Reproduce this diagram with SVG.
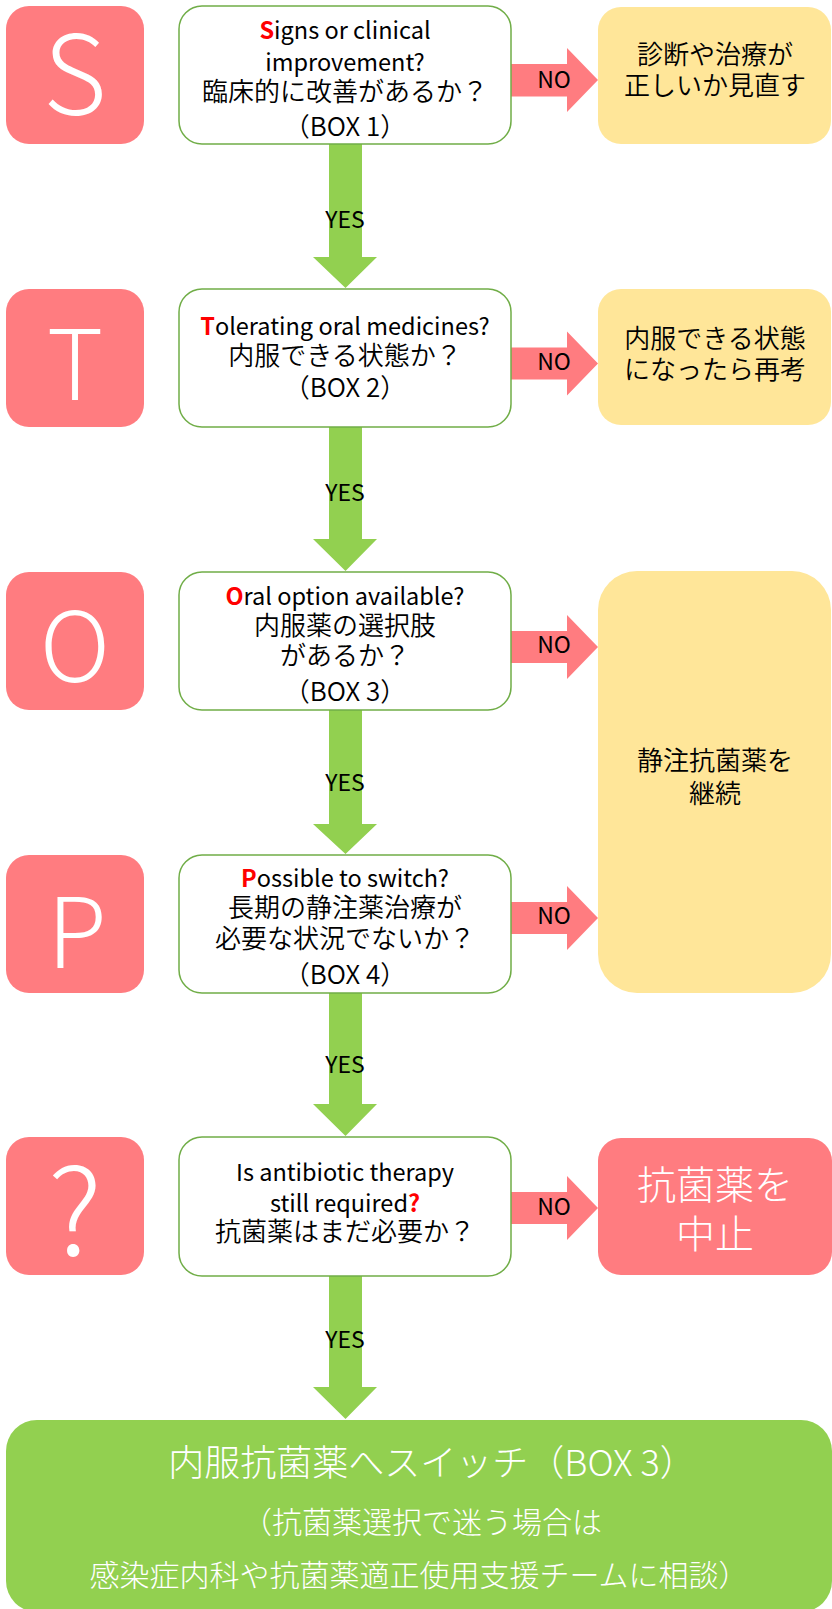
<svg xmlns="http://www.w3.org/2000/svg" width="832" height="1609" viewBox="0 0 832 1609">
<style>
.lbox{fill:#FF7C80}
.qbox{fill:#FFFFFF;stroke:#70AD47;stroke-width:1.5}
.ybox{fill:#FFE699}
.rbox{fill:#FF7C80}
.gbox{fill:#92D050}
.yes{fill:#92D050}
.no{fill:#FF7C80}
text{font-family:"Noto Sans CJK JP","Noto Sans",sans-serif}
.letter{fill:#FFFFFF;font-weight:300;text-anchor:middle}
.q{font-size:26px;fill:#000000;text-anchor:middle;font-weight:350}
.e{font-size:23.5px;fill:#000000;text-anchor:middle}
.red{fill:#FF0000;font-weight:bold}
.lab{font-size:23px;fill:#000000;text-anchor:middle}
.w{fill:#FFFFFF;text-anchor:middle;font-weight:300}
</style>
<g id="connectors">
<polygon class="yes" points="329,144 362,144 362,257 377,257 345.5,288 313,257 329,257"/>
<polygon class="yes" points="329,427 362,427 362,539 377,539 345.5,571 313,539 329,539"/>
<polygon class="yes" points="329,710 362,710 362,824 377,824 345.5,854 313,824 329,824"/>
<polygon class="yes" points="329,993 362,993 362,1104 377,1104 345.5,1136 313,1104 329,1104"/>
<polygon class="yes" points="329,1276 362,1276 362,1387 377,1387 345.5,1419 313,1387 329,1387"/>
<text class="lab" x="345" y="228">YES</text>
<text class="lab" x="345" y="501">YES</text>
<text class="lab" x="345" y="791">YES</text>
<text class="lab" x="345" y="1073">YES</text>
<text class="lab" x="345" y="1348">YES</text>
<polygon class="no" points="511,64 567,64 567,48 598,80 567,112 567,96.5 511,96.5"/>
<polygon class="no" points="511,347.5 567,347.5 567,331.5 598,363.5 567,395.5 567,379.5 511,379.5"/>
<polygon class="no" points="511,631 567,631 567,615 598,647 567,679 567,663 511,663"/>
<polygon class="no" points="511,902 567,902 567,886 598,918 567,950 567,934 511,934"/>
<polygon class="no" points="511,1192 567,1192 567,1176 598,1208 567,1240 567,1224 511,1224"/>
<text class="lab" x="554" y="88">NO</text>
<text class="lab" x="554" y="370">NO</text>
<text class="lab" x="554" y="653">NO</text>
<text class="lab" x="554" y="924">NO</text>
<text class="lab" x="554" y="1215">NO</text>
</g>
<g id="letter-S"><rect class="lbox" x="6" y="6" width="138" height="138" rx="23"/><text class="letter" x="75" y="115" font-size="110">S</text></g>
<g id="letter-T"><rect class="lbox" x="6" y="289" width="138" height="138" rx="23"/><text class="letter" x="75" y="400" font-size="97">T</text></g>
<g id="letter-O"><rect class="lbox" x="6" y="572" width="138" height="138" rx="23"/><text class="letter" x="75" y="682" font-size="97">O</text></g>
<g id="letter-P"><rect class="lbox" x="6" y="855" width="138" height="138" rx="23"/><text class="letter" x="77" y="968" font-size="97">P</text></g>
<g id="letter-Q"><rect class="lbox" x="6" y="1137" width="138" height="138" rx="23"/><text class="letter" x="75" y="1255" font-size="120">?</text></g>
<g id="q1"><rect class="qbox" x="179" y="6" width="332" height="138" rx="23"/>
<text class="e" x="345" y="39"><tspan class="red">S</tspan>igns or clinical</text>
<text class="e" x="345" y="71">improvement?</text>
<text class="q" x="345" y="101">臨床的に改善があるか？</text>
<text class="q" x="345" y="136">（BOX 1）</text></g>
<g id="q2"><rect class="qbox" x="179" y="289" width="332" height="138" rx="23"/>
<text class="e" x="345" y="335"><tspan class="red">T</tspan>olerating oral medicines?</text>
<text class="q" x="345" y="365">内服できる状態か？</text>
<text class="q" x="345" y="397">（BOX 2）</text></g>
<g id="q3"><rect class="qbox" x="179" y="572" width="332" height="138" rx="23"/>
<text class="e" x="345" y="605"><tspan class="red">O</tspan>ral option available?</text>
<text class="q" x="345" y="635">内服薬の選択肢</text>
<text class="q" x="345" y="665">があるか？</text>
<text class="q" x="345" y="701">（BOX 3）</text></g>
<g id="q4"><rect class="qbox" x="179" y="855" width="332" height="138" rx="23"/>
<text class="e" x="345" y="887"><tspan class="red">P</tspan>ossible to switch?</text>
<text class="q" x="345" y="917">長期の静注薬治療が</text>
<text class="q" x="345" y="948">必要な状況でないか？</text>
<text class="q" x="345" y="984">（BOX 4）</text></g>
<g id="q5"><rect class="qbox" x="179" y="1137" width="332" height="139" rx="23"/>
<text class="e" x="345" y="1181">Is antibiotic therapy</text>
<text class="e" x="345" y="1212">still required<tspan class="red">?</tspan></text>
<text class="q" x="345" y="1241">抗菌薬はまだ必要か？</text></g>
<g id="no1"><rect class="ybox" x="598" y="7" width="233" height="137" rx="23"/>
<text class="q" x="715" y="64">診断や治療が</text>
<text class="q" x="715" y="95">正しいか見直す</text></g>
<g id="no2"><rect class="ybox" x="598" y="289" width="233" height="136" rx="23"/>
<text class="q" x="715" y="348">内服できる状態</text>
<text class="q" x="715" y="379">になったら再考</text></g>
<g id="no34"><rect class="ybox" x="598" y="571" width="233" height="422" rx="39"/>
<text class="q" x="715" y="770">静注抗菌薬を</text>
<text class="q" x="715" y="803">継続</text></g>
<g id="stop"><rect class="rbox" x="598" y="1138" width="234" height="137" rx="23"/>
<text class="w" x="715" y="1199" font-size="39">抗菌薬を</text>
<text class="w" x="715" y="1248" font-size="39">中止</text></g>
<g id="switch"><rect class="gbox" x="6" y="1420" width="826" height="192" rx="31"/>
<text class="w" x="432" y="1476" font-size="36">内服抗菌薬へスイッチ（BOX 3）</text>
<text class="w" x="422" y="1533" font-size="30">（抗菌薬選択で迷う場合は</text>
<text class="w" x="419" y="1586" font-size="30">感染症内科や抗菌薬適正使用支援チームに相談）</text></g>
</svg>
